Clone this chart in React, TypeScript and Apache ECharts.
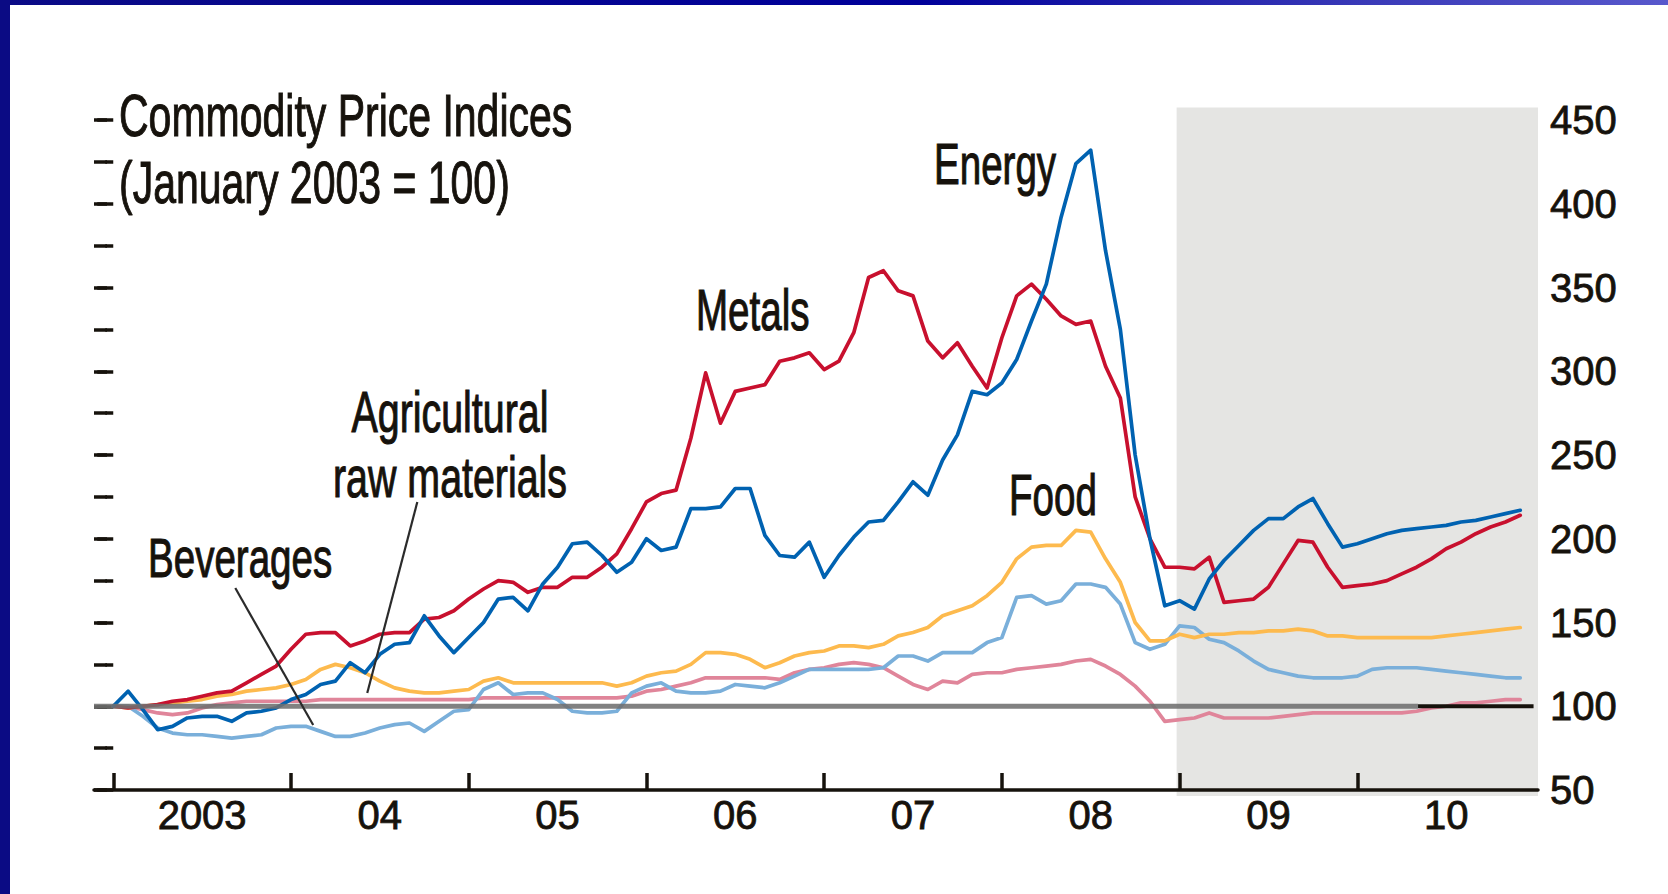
import React, { useEffect, useRef } from 'react';
import * as echarts from 'echarts';

// ---------- DATA (monthly, Jan 2003 = month 0 ... Dec 2010 = month 95) ----------
const yearLabels = ['2003', '04', '05', '06', '07', '08', '09', '10'];
const yearStartTicks = [0, 12, 24, 36, 48, 60, 72, 84];
const yearMidTicks = [6, 18, 30, 42, 54, 66, 78, 90];

const energy = [
  100, 109, 98, 86, 88, 93, 94, 94, 91, 96, 97, 99,
  104, 107, 113, 115, 126, 120, 131, 137, 138, 154, 142, 132,
  141, 150, 164, 165, 157, 173, 183, 197, 198, 190, 180, 186,
  200, 193, 195, 218, 218, 219, 230, 230, 202, 190, 189, 198,
  177, 190, 201, 210, 211, 222, 234, 226, 247, 262, 288, 286,
  293, 307, 330, 352, 392, 424, 432, 372, 325, 250, 200, 160,
  163, 158, 176, 187, 196, 205, 212, 212, 219, 224, 209, 195,
  197, 200, 203, 205, 206, 207, 208, 210, 211, 213, 215, 217,
];

const metals = [
  100, 99, 100, 101, 103, 104, 106, 108, 109, 114, 119, 124,
  134, 143, 144, 144, 136, 139, 143, 144, 144, 152, 153, 157,
  164, 170, 175, 174, 168, 171, 171, 177, 177, 183, 191, 206,
  222, 227, 229, 260, 299, 269, 288, 290, 292, 306, 308, 311,
  301, 306, 323, 356, 360, 348, 345, 318, 308, 317, 303, 290,
  320, 345, 352, 343, 333, 328, 330, 303, 284, 225, 200, 183,
  183, 182, 189, 162, 163, 164, 171, 185, 199, 198, 183, 171,
  172, 173, 175, 179, 183, 188, 194, 198, 203, 207, 210, 214,
];

const food = [
  100, 99, 100, 101, 102, 103, 104, 106, 107, 109, 110, 111,
  113, 116, 122, 125, 123, 120, 115, 111, 109, 108, 108, 109,
  110, 115, 117, 114, 114, 114, 114, 114, 114, 114, 112, 114,
  118, 120, 121, 125, 132, 132, 131, 128, 123, 126, 130, 132,
  133, 136, 136, 135, 137, 142, 144, 147, 154, 157, 160, 166,
  174, 188, 195, 196, 196, 205, 204, 188, 174, 150, 139, 139,
  143, 141, 143, 143, 144, 144, 145, 145, 146, 145, 142, 142,
  141, 141, 141, 141, 141, 141, 142, 143, 144, 145, 146, 147,
];

const beverages = [
  100, 100, 94, 87, 84, 83, 83, 82, 81, 82, 83, 87,
  88, 88, 85, 82, 82, 84, 87, 89, 90, 85, 91, 97,
  98, 110, 114, 107, 108, 108, 104, 97, 96, 96, 97, 108,
  112, 114, 109, 108, 108, 109, 113, 112, 111, 114, 118, 122,
  122, 122, 122, 122, 123, 130, 130, 127, 132, 132, 132, 138,
  141, 165, 166, 161, 163, 173, 173, 171, 161, 138, 134, 137,
  148, 147, 140, 138, 133, 127, 122, 120, 118, 117, 117, 117,
  118, 122, 123, 123, 123, 122, 121, 120, 119, 118, 117, 117,
];

const agriculturalRaw = [
  100, 100, 98, 96, 95, 96, 99, 101, 102, 103, 103, 103,
  103, 103, 104, 104, 104, 104, 104, 104, 104, 104, 104, 104,
  104, 105, 105, 105, 105, 105, 105, 105, 105, 105, 105, 106,
  109, 110, 112, 114, 117, 117, 117, 117, 117, 116, 120, 122,
  123, 125, 126, 125, 123, 118, 113, 110, 115, 114, 119, 120,
  120, 122, 123, 124, 125, 127, 128, 124, 119, 112, 103, 91,
  92, 93, 96, 93, 93, 93, 93, 94, 95, 96, 96, 96,
  96, 96, 96, 96, 97, 99, 100, 102, 102, 103, 104, 104,
];

const baselineValue = 100;
const baselineGreySpan = [-1.3, 88.1];
const baselineBlackSpan = [88.1, 95.9];
const projectionStartMonth = 71.8;
const projectionEndMonth = 96.2;
const projectionTopValue = 457.5;
const projectionBottomValue = 46.4;
const beveragesLeader = [[8.24, 170.6], [13.5, 88.8]];
const agriculturalLeader = [[20.53, 221.9], [17.15, 107.9]];

// ---------- helpers ----------
function hasFont(name: string): boolean {
  try {
    const c = document.createElement('canvas').getContext('2d');
    if (!c) return false;
    const txt = 'Commodity Price Indices 0123456789';
    c.font = '50px monospace';
    const w0 = c.measureText(txt).width;
    c.font = `50px '${name}', monospace`;
    const w1 = c.measureText(txt).width;
    return Math.abs(w1 - w0) > 0.5;
  } catch (e) {
    return false;
  }
}

const INK = '#16120c';

export default function App() {
  const ref = useRef<HTMLDivElement>(null);

  useEffect(() => {
    document.body.style.margin = '0';
    document.body.style.overflow = 'hidden';
    const narrow = hasFont('Liberation Sans Narrow');
    const fam = narrow ? "'Liberation Sans Narrow', 'Liberation Sans', sans-serif" : "'Liberation Sans', Arial, sans-serif";
    const textScaleX = narrow ? 1 : 0.82;
    const axisFs = narrow ? 48 : 40;

    const chart = echarts.init(ref.current!, null, { renderer: 'svg' });

    const toPairs = (arr: number[]) => arr.map((v, i) => [i, v]);
    const lineSeries = (name: string, data: number[], color: string, z: number) => ({
      name,
      type: 'line',
      data: toPairs(data),
      xAxisIndex: 0,
      yAxisIndex: 0,
      symbol: 'none',
      showSymbol: false,
      smooth: false,
      silent: true,
      z,
      lineStyle: { color, width: 3.7, cap: 'round', join: 'round' },
    });

    const tickStyle = { color: INK, width: 3.5 };

    const option: any = {
      animation: false,
      backgroundColor: '#ffffff',
      grid: { left: 94, right: 130, top: 120, bottom: 104, containLabel: false },
      xAxis: [
        {
          type: 'value',
          min: -1.3,
          max: 96.2,
          axisLine: { show: true, onZero: false, lineStyle: { color: INK, width: 3.5 } },
          axisTick: { show: true, inside: true, length: 17, lineStyle: tickStyle, customValues: yearStartTicks },
          axisLabel: {
            show: true,
            customValues: yearMidTicks,
            formatter: (v: number) => yearLabels[Math.round((v - 6) / 12)] ?? '',
            color: INK,
            fontFamily: fam,
            fontSize: axisFs,
            margin: 5,
            textBorderColor: INK,
            textBorderWidth: 0.8,
          },
          splitLine: { show: false },
        },
      ],
      yAxis: [
        {
          type: 'value',
          position: 'right',
          min: 50,
          max: 450,
          interval: 50,
          axisLine: { show: false },
          axisTick: { show: true, inside: true, length: 16, lineStyle: tickStyle },
          minorTick: { show: true, splitNumber: 2, length: 8, lineStyle: tickStyle },
          axisLabel: {
            color: INK,
            fontFamily: fam,
            fontSize: axisFs,
            margin: 12,
            textBorderColor: INK,
            textBorderWidth: 0.8,
          },
          splitLine: { show: false },
        },
        {
          type: 'value',
          position: 'left',
          min: 50,
          max: 450,
          interval: 25,
          axisLine: { show: false },
          axisTick: { show: true, inside: true, length: 13, lineStyle: tickStyle },
          axisLabel: { show: false },
          splitLine: { show: false },
        },
      ],
      series: [
        lineSeries('Agricultural raw materials', agriculturalRaw, '#E0859A', 2),
        lineSeries('Beverages', beverages, '#7AAFDA', 3),
        lineSeries('Food', food, '#FDBA4E', 4),
        lineSeries('Metals', metals, '#C8102E', 5),
        lineSeries('Energy', energy, '#0062B1', 6),
        {
          name: 'baseline',
          type: 'line',
          symbol: 'none',
          silent: true,
          z: 7,
          data: baselineGreySpan.map((m) => [m, baselineValue]),
          lineStyle: { color: '#6f6f6f', width: 5, opacity: 0.88 },
        },
        {
          name: 'baseline-end',
          type: 'line',
          symbol: 'none',
          silent: true,
          z: 7,
          data: baselineBlackSpan.map((m) => [m, baselineValue]),
          lineStyle: { color: INK, width: 4 },
        },
      ],
    };

    chart.setOption(option);

    const px = (m: number, v: number) =>
      chart.convertToPixel({ xAxisIndex: 0, yAxisIndex: 0 } as any, [m, v]) as unknown as number[];

    const [gx0, gy0] = px(projectionStartMonth, projectionTopValue);
    const [gx1, gy1] = px(projectionEndMonth, projectionBottomValue);

    const txt = (text: string, x: number, y: number, align: string, fs: number, sy: number) => ({
      type: 'text',
      x,
      y,
      scaleX: textScaleX,
      scaleY: sy,
      z: 20,
      silent: true,
      style: {
        text,
        fill: INK,
        stroke: INK,
        lineWidth: 0.9,
        font: `${fs}px ${fam}`,
        fontSize: fs,
        fontFamily: fam,
        align,
        textAlign: align,
        verticalAlign: 'middle',
        textVerticalAlign: 'middle',
      },
    });

    const leader = (pts: number[][]) => {
      const a = px(pts[0][0], pts[0][1]);
      const b = px(pts[1][0], pts[1][1]);
      return {
        type: 'line',
        z: 19,
        silent: true,
        shape: { x1: a[0], y1: a[1], x2: b[0], y2: b[1] },
        style: { stroke: '#2b2b2b', lineWidth: 2.2 },
      };
    };

    chart.setOption({
      graphic: [
        {
          type: 'rect',
          z: -10,
          silent: true,
          shape: { x: gx0, y: gy0, width: gx1 - gx0, height: gy1 - gy0 },
          style: { fill: '#e5e5e3' },
        },
        {
          type: 'rect',
          z: 100,
          silent: true,
          shape: { x: 0, y: 0, width: 1668, height: 5 },
          style: {
            fill: new echarts.graphic.LinearGradient(0, 0, 1, 0, [
              { offset: 0, color: '#0b0b86' },
              { offset: 0.55, color: '#00009a' },
              { offset: 0.82, color: '#3a3ab8' },
              { offset: 1, color: '#5858cc' },
            ]),
          },
        },
        {
          type: 'rect',
          z: 100,
          silent: true,
          shape: { x: 0, y: 0, width: 10, height: 894 },
          style: { fill: '#0b0b84' },
        },
        txt('Commodity Price Indices', 119, 116, 'left', 50, 1.17),
        txt('(January 2003 = 100)', 119, 183, 'left', 50, 1.17),
        txt('Energy', 934, 164, 'left', 47, 1.22),
        txt('Metals', 696, 310, 'left', 47, 1.22),
        txt('Food', 1009, 495, 'left', 47, 1.22),
        txt('Agricultural', 450, 412, 'center', 48, 1.2),
        txt('raw materials', 450, 477, 'center', 48, 1.2),
        txt('Beverages', 148, 557, 'left', 47, 1.2),
        leader(beveragesLeader),
        leader(agriculturalLeader),
      ],
    });

    return () => {
      chart.dispose();
    };
  }, []);

  return (
    <div
      ref={ref}
      style={{ position: 'absolute', left: 0, top: 0, width: 1668, height: 894, background: '#ffffff' }}
    />
  );
}
